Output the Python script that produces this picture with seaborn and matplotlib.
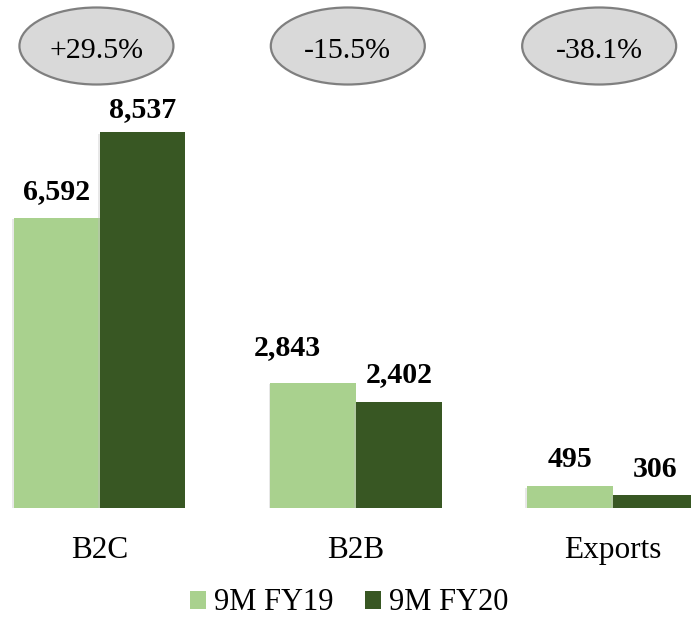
import matplotlib
matplotlib.use("Agg")
import matplotlib.pyplot as plt
import matplotlib.patheffects as pe
from matplotlib.patches import Ellipse, Patch
import seaborn as sns
import pandas as pd

# Sales volume by channel, nine-month comparison
categories = ["B2C", "B2B", "Exports"]
periods = ["9M FY19", "9M FY20"]
fy19_values = [6592, 2843, 495]
fy20_values = [8537, 2402, 306]
growth_labels = ["+29.5%", "-15.5%", "-38.1%"]

light_green = "#A9D18E"
dark_green = "#385723"

df = pd.DataFrame({
    "category": categories * 2,
    "period": [periods[0]] * 3 + [periods[1]] * 3,
    "value": fy19_values + fy20_values,
})

sns.set_theme(style="white")
plt.rcParams["font.family"] = ["Liberation Serif", "DejaVu Serif"]
plt.rcParams["text.color"] = "black"
plt.rcParams["xtick.color"] = "black"

fig = plt.figure(figsize=(6.91, 6.2), dpi=100)
ax = fig.add_axes([0.0, 0.1806, 1.0, 0.8194])

sns.barplot(data=df, x="category", y="value", hue="period",
            order=categories, hue_order=periods,
            palette=[light_green, dark_green], width=0.667,
            saturation=1, legend=False, ax=ax)

# soft shadow around the bars
for bar in ax.patches:
    bar.set_linewidth(0)
    bar.set_path_effects([pe.SimplePatchShadow(offset=(-1.2, -1.2),
                                               shadow_rgbFace="#bfbfbf",
                                               alpha=0.35),
                          pe.Normal()])

ax.set_xlim(-0.388, 2.306)
ax.set_ylim(0, 11530)

# value labels above each bar (offsets in pixels)
label_shift = {(0, 0): (0, 19), (0, 1): (0, 15),
               (1, 0): (-26, 28), (1, 1): (0, 20),
               (2, 0): (0, 19), (2, 1): (0, 18)}
series = [fy19_values, fy20_values]
for h, container in enumerate(ax.containers):
    for i, bar in enumerate(container):
        v = series[h][i]
        dx, dy = label_shift[(i, h)]
        ax.annotate(f"{v:,}", (bar.get_x() + bar.get_width() / 2, v),
                    xytext=(dx * 0.72, dy * 0.72), textcoords="offset points",
                    ha="center", va="baseline", fontsize=21.5,
                    fontweight="bold", color="black")

# growth bubbles above each group
px_per_unit_x = 256.5
px_per_unit_y = 508 / 11530
for i, txt in enumerate(growth_labels):
    xc = i * 0.98 - 0.012
    yc = (508 - 46) / px_per_unit_y
    ell = Ellipse((xc, yc), width=154 / px_per_unit_x, height=77 / px_per_unit_y,
                  facecolor="#D9D9D9", edgecolor="#7F7F7F", linewidth=1.6,
                  clip_on=False, zorder=5)
    ax.add_patch(ell)
    ax.text(xc, yc - 5 / px_per_unit_y, txt, ha="center", va="center",
            fontsize=21.5, color="black", zorder=6)

ax.set_xlabel("")
ax.set_ylabel("")
ax.set_yticks([])
ax.tick_params(axis="x", length=0, pad=20, labelsize=22.5, colors="black")
for s in ax.spines.values():
    s.set_visible(False)

handles = [Patch(facecolor=light_green, edgecolor="none", label=periods[0]),
           Patch(facecolor=dark_green, edgecolor="none", label=periods[1])]
leg = fig.legend(handles=handles, loc="center", bbox_to_anchor=(349 / 691, 17 / 620),
                 ncol=2, frameon=False, fontsize=22, handlelength=0.52,
                 handleheight=0.52, handletextpad=0.25, columnspacing=1.05,
                 borderpad=0, borderaxespad=0)
for t in leg.get_texts():
    t.set_color("black")

fig.savefig("out.png", dpi=100, facecolor="white")
